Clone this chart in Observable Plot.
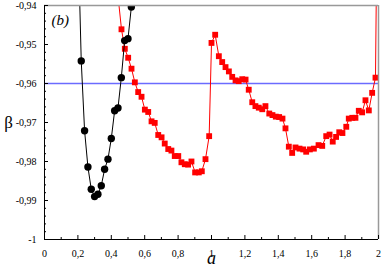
<!DOCTYPE html>
<html>
<head>
<meta charset="utf-8">
<script src="https://cdn.jsdelivr.net/npm/d3@7"></script>
<script src="https://cdn.jsdelivr.net/npm/@observablehq/plot@0.6"></script>
<style>
  html, body { margin: 0; padding: 0; background: #fff; }
  svg, svg text { font-family: "Liberation Serif", "DejaVu Serif", serif !important; }
</style>
</head>
<body>
<div id="chart"></div>
<script>
// Black series (circles)
const aBlack = [0.20, 0.22, 0.24, 0.26, 0.28, 0.30, 0.32, 0.34, 0.36, 0.38, 0.40, 0.42, 0.44, 0.46, 0.48, 0.50, 0.52, 0.54];
const betaBlack = [-0.921, -0.9542, -0.9721, -0.9814, -0.9871, -0.9890, -0.9884, -0.9862, -0.9820, -0.9794, -0.9741, -0.9670, -0.9663, -0.9585, -0.9490, -0.9485, -0.9404, -0.925];

// Red series (squares)
const aRed = [0.44, 0.461, 0.481, 0.501, 0.521, 0.541, 0.561, 0.581, 0.601, 0.621, 0.641, 0.660, 0.681, 0.701, 0.720, 0.741, 0.760, 0.780, 0.801, 0.820, 0.840, 0.860, 0.880, 0.902, 0.924, 0.942, 0.964, 0.986, 1.000, 1.022, 1.044, 1.064, 1.084, 1.104, 1.124, 1.144, 1.163, 1.184, 1.204, 1.223, 1.244, 1.263, 1.283, 1.304, 1.323, 1.346, 1.365, 1.385, 1.405, 1.425, 1.443, 1.463, 1.483, 1.503, 1.527, 1.549, 1.567, 1.589, 1.613, 1.641, 1.663, 1.687, 1.707, 1.726, 1.746, 1.765, 1.784, 1.807, 1.822, 1.843, 1.862, 1.882, 1.902, 1.922, 1.942, 1.962, 1.982, 2.0];
const betaRed = [-0.9375, -0.9461, -0.9511, -0.9534, -0.9562, -0.9597, -0.9622, -0.9634, -0.9667, -0.9673, -0.9697, -0.9701, -0.9732, -0.9738, -0.9754, -0.9768, -0.9772, -0.9786, -0.9786, -0.9802, -0.9807, -0.9808, -0.9800, -0.9828, -0.9828, -0.9825, -0.9794, -0.9735, -0.9496, -0.9475, -0.9530, -0.9545, -0.9558, -0.9569, -0.9583, -0.9592, -0.9594, -0.9589, -0.9590, -0.9616, -0.9648, -0.9658, -0.9662, -0.9666, -0.9658, -0.9677, -0.9681, -0.9685, -0.9686, -0.9690, -0.9715, -0.9762, -0.9778, -0.9764, -0.9767, -0.9769, -0.9775, -0.9769, -0.9767, -0.9758, -0.9760, -0.9735, -0.9731, -0.9749, -0.9737, -0.9725, -0.9727, -0.9711, -0.9690, -0.9688, -0.9688, -0.9670, -0.9674, -0.9643, -0.9669, -0.9624, -0.9585, -0.88];

// Reference line
const refBeta = [-0.96];

// Axes
const xDomain = [0, 2];
const yDomain = [-1, -0.94];
const xTicks = [0, 0.2, 0.4, 0.6, 0.8, 1, 1.2, 1.4, 1.6, 1.8, 2];
const xTickLabels = ["0", "0,2", "0,4", "0,6", "0,8", "1", "1,2", "1,4", "1,6", "1,8", "2"];
const xMinorTicks = [0.1, 0.3, 0.5, 0.7, 0.9, 1.1, 1.3, 1.5, 1.7, 1.9];
const yTicks = [-1, -0.99, -0.98, -0.97, -0.96, -0.95, -0.94];
const yTickLabels = ["-1", "-0,99", "-0,98", "-0,97", "-0,96", "-0,95", "-0,94"];
const yMinorTicks = [-0.998, -0.996, -0.994, -0.992, -0.988, -0.986, -0.984, -0.982, -0.978, -0.976, -0.974, -0.972, -0.968, -0.966, -0.964, -0.962, -0.958, -0.956, -0.954, -0.952, -0.948, -0.946, -0.944, -0.942];

const xLabel = "a";
const yLabel = "β";
const panelLabel = "(b)";

const black = aBlack.map((a, i) => ({a, beta: betaBlack[i]}));
const red = aRed.map((a, i) => ({a, beta: betaRed[i]}));

const W = 382, H = 270;
const mL = 44, mR = 4, mT = 5, mB = 31;
const innerW = W - mL - mR, innerH = H - mT - mB;
const serif = "Liberation Serif";

const chart = Plot.plot({
  width: W,
  height: H,
  marginLeft: mL,
  marginRight: mR,
  marginTop: mT,
  marginBottom: mB,
  style: {fontFamily: serif, fontSize: "10px", background: "#fff", color: "#000"},
  x: {domain: xDomain},
  y: {domain: yDomain},
  marks: [
    Plot.ruleY(refBeta, {stroke: "#6b6bff", strokeWidth: 1.5}),
    Plot.line(red, {x: "a", y: "beta", stroke: "#ff0000", strokeWidth: 1, clip: true}),
    Plot.dot(red, {x: "a", y: "beta", symbol: "square", fill: "#ff0000", r: 3.3, clip: true}),
    Plot.line(black, {x: "a", y: "beta", stroke: "#000", strokeWidth: 1, clip: true}),
    Plot.dot(black, {x: "a", y: "beta", fill: "#000", r: 3.7, clip: true}),
    // frame
    Plot.ruleY([yDomain[1]], {stroke: "#999", strokeWidth: 1.5}),
    Plot.ruleX([xDomain[1]], {stroke: "#999", strokeWidth: 1.5}),
    Plot.ruleX([xDomain[0]], {stroke: "#000", strokeWidth: 1}),
    Plot.ruleY([yDomain[0]], {stroke: "#000", strokeWidth: 1}),
    // inward ticks
    Plot.tickY(yTicks, {y: d => d, stroke: "#000", insetRight: innerW - 4}),
    Plot.tickY(yMinorTicks, {y: d => d, stroke: "#000", insetRight: innerW - 2}),
    Plot.tickX(xTicks, {x: d => d, stroke: "#000", insetTop: innerH - 4}),
    Plot.tickX(xMinorTicks, {x: d => d, stroke: "#000", insetTop: innerH - 2}),
    // tick labels
    Plot.axisY({ticks: yTicks, tickSize: 0, tickPadding: 8, fontFamily: serif, fontSize: 10, tickFormat: d => yTickLabels[yTicks.indexOf(d)], label: null}),
    Plot.axisX({ticks: xTicks, tickSize: 0, tickPadding: 10, fontFamily: serif, fontSize: 10, tickFormat: d => xTickLabels[xTicks.indexOf(d)], label: null}),
    // labels
    Plot.text([yLabel], {text: d => d, frameAnchor: "left", dx: -36, dy: 0, fontSize: 17, fontFamily: serif, textAnchor: "middle"}),
    Plot.text([xLabel], {text: d => d, frameAnchor: "bottom", dy: 24, fontSize: 18, fontFamily: serif, fontStyle: "italic", textAnchor: "middle"}),
    Plot.text([panelLabel], {text: d => d, frameAnchor: "top-left", dx: 7, dy: 9, fontSize: 15, fontFamily: serif, fontStyle: "italic", textAnchor: "start", lineAnchor: "top"})
  ]
});
document.getElementById("chart").appendChild(chart);
</script>
</body>
</html>
